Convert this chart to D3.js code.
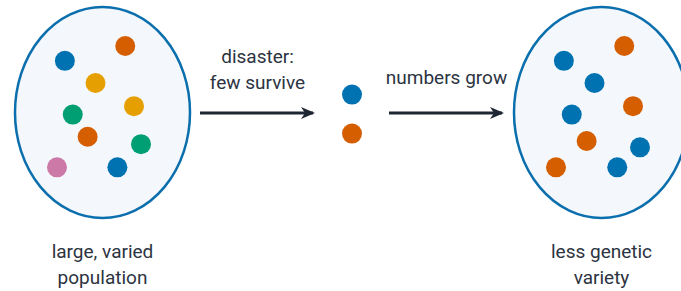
<!DOCTYPE html>
<html>
<head>
<meta charset="utf-8">
<script src="https://cdn.jsdelivr.net/npm/d3@7"></script>
<style>
  html, body { margin: 0; padding: 0; background: #fff; }
  svg { display: block; }
  text { font-family: Roboto, "DejaVu Sans", sans-serif; fill: #2c3341; }
</style>
</head>
<body>
<div id="chart"></div>
<script>
// 단계: 큰 집단 -> 생존자 -> 다시 불어난 집단
const stages = ['large', 'survivors', 'grown'];

const colors = {
  blue: '#0072B2', orange: '#D55E00', yellow: '#E69F00',
  green: '#009E73', pink: '#CC79A7'
};

// dot offsets in ellipse-radius units (-1..1)
const largePop = [
  { dx: -0.43, dy: -0.49, c: 'blue' },
  { dx: 0.26, dy: -0.63, c: 'orange' },
  { dx: -0.08, dy: -0.28, c: 'yellow' },
  { dx: 0.36, dy: -0.06, c: 'yellow' },
  { dx: -0.34, dy: 0.02, c: 'green' },
  { dx: -0.17, dy: 0.23, c: 'orange' },
  { dx: 0.44, dy: 0.30, c: 'green' },
  { dx: -0.52, dy: 0.52, c: 'pink' },
  { dx: 0.17, dy: 0.52, c: 'blue' }
];
const survivors = [
  { dx: 0, dy: -0.17, c: 'blue' },
  { dx: 0, dy: 0.20, c: 'orange' }
];
const grownPop = [
  { dx: -0.43, dy: -0.49, c: 'blue' },
  { dx: 0.26, dy: -0.63, c: 'orange' },
  { dx: -0.08, dy: -0.28, c: 'blue' },
  { dx: 0.36, dy: -0.06, c: 'orange' },
  { dx: -0.34, dy: 0.02, c: 'blue' },
  { dx: -0.17, dy: 0.27, c: 'orange' },
  { dx: 0.44, dy: 0.33, c: 'blue' },
  { dx: -0.52, dy: 0.52, c: 'orange' },
  { dx: 0.18, dy: 0.52, c: 'blue' }
];

const popLabels = {
  large: ['large, varied', 'population'],
  grown: ['less genetic', 'variety']
};
const arrowLabels = [
  ['disaster:', 'few survive'],
  ['numbers grow']
];

const W = 681, H = 291;
const RX = 87.5, RY = 105.5, CY = 112.5, DOT_R = 10;
const FS = 19;

const x = d3.scalePoint().domain(stages).range([102.5, 601.5]);
const ox = d3.scaleLinear().domain([-1, 1]).range([-RX, RX]);
const oy = d3.scaleLinear().domain([-1, 1]).range([CY - RY, CY + RY]);

const svg = d3.select('#chart').append('svg')
  .attr('width', W).attr('height', H);

const defs = svg.append('defs');
defs.append('marker')
  .attr('id', 'tip').attr('viewBox', '0 0 14 12')
  .attr('refX', 12).attr('refY', 6)
  .attr('markerWidth', 14).attr('markerHeight', 12)
  .attr('markerUnits', 'userSpaceOnUse').attr('orient', 'auto')
  .append('path')
  .attr('d', 'M0,0 L14,6 L0,12 L4,6 Z')
  .attr('fill', '#1f2633');

// 타원 (집단)
['large', 'grown'].forEach(s => {
  svg.append('ellipse')
    .attr('cx', x(s)).attr('cy', CY).attr('rx', RX).attr('ry', RY)
    .attr('fill', '#f4f8fc').attr('stroke', '#0b6fae').attr('stroke-width', 2.5);
});

const pops = { large: largePop, survivors: survivors, grown: grownPop };
stages.forEach(s => {
  svg.append('g').selectAll('circle')
    .data(pops[s]).join('circle')
    .attr('cx', d => x(s) + ox(d.dx))
    .attr('cy', d => oy(d.dy))
    .attr('r', DOT_R)
    .attr('fill', d => colors[d.c]);
});

// 화살표
const gaps = [
  { x1: x('large') + RX + 10, x2: x('survivors') - 37 },
  { x1: x('survivors') + 37, x2: x('grown') - RX - 10 }
];
gaps.forEach((g, i) => {
  svg.append('line')
    .attr('x1', g.x1).attr('x2', g.x2 - 2)
    .attr('y1', 113).attr('y2', 113)
    .attr('stroke', '#1f2633').attr('stroke-width', 3)
    .attr('marker-end', 'url(#tip)');
  const lines = arrowLabels[i];
  const base = lines.length === 2 ? 63 : 84;
  svg.append('text')
    .attr('text-anchor', 'middle').attr('font-size', FS)
    .selectAll('tspan').data(lines).join('tspan')
    .attr('x', (g.x1 + g.x2) / 2)
    .attr('y', (d, j) => base + j * 25.5)
    .text(d => d);
});

// 아래 라벨
Object.keys(popLabels).forEach(s => {
  svg.append('text')
    .attr('text-anchor', 'middle').attr('font-size', FS)
    .selectAll('tspan').data(popLabels[s]).join('tspan')
    .attr('x', x(s))
    .attr('y', (d, j) => 257.5 + j * 26)
    .text(d => d);
});
</script>
</body>
</html>
